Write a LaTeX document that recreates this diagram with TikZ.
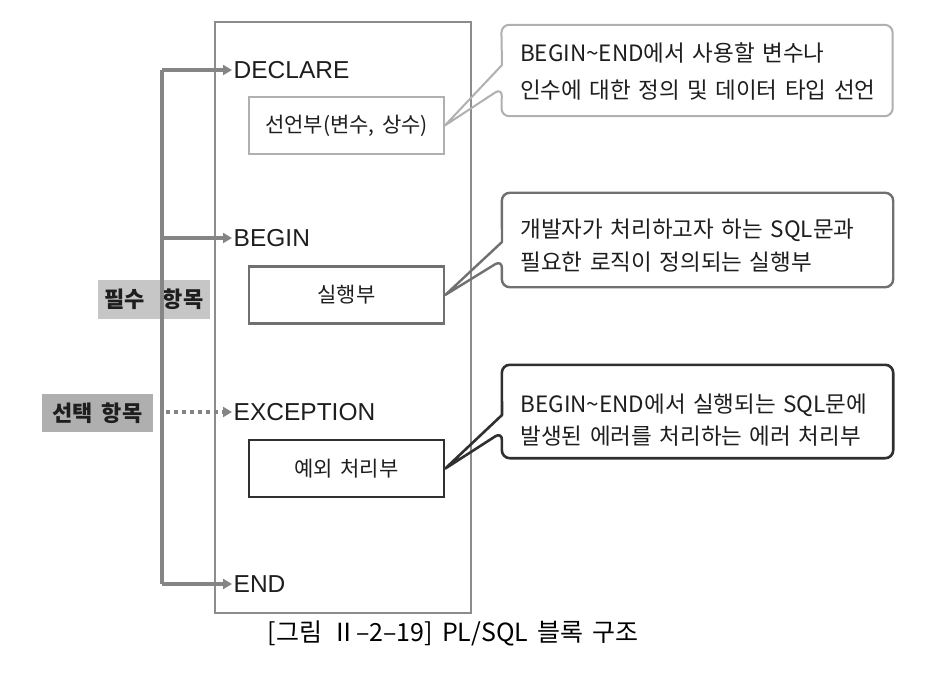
\documentclass[tikz,border=0pt]{standalone}
\usepackage{fontspec}
\setmainfont{Liberation Sans}
\newfontfamily\kr[WordSpace=1.6]{Noto Sans CJK KR}
\usetikzlibrary{arrows.meta,calc}
\definecolor{lineg}{HTML}{858585}
\definecolor{rectg}{HTML}{8C8C8C}
\definecolor{lightb}{HTML}{B0B0B0}
\definecolor{midb}{HTML}{707070}
\definecolor{darkb}{HTML}{303030}
\definecolor{tag1}{HTML}{C6C6C6}
\definecolor{tag2}{HTML}{AFAFAF}
\definecolor{txt}{HTML}{1E1E1E}
\tikzset{
  kw/.style={anchor=west, inner sep=1.5pt, text=txt, font=\fontsize{24.5}{24.5}\selectfont},
  ibox/.style={draw, minimum width=195pt, minimum height=57pt, inner sep=0pt, text=txt, font=\kr\fontsize{21}{21}\selectfont},
  tagbox/.style={inner sep=0pt, text=txt, font=\kr\bfseries\fontsize{22}{22}\selectfont},
  cbox/.style={minimum width=391pt, inner sep=0pt},
  ctext/.style={align=left, text width=370pt, inner sep=0pt, text=txt},
  garrow/.style={draw=lineg, line width=3.2pt, -{Triangle[length=9pt,width=10pt]}},
  gline/.style={draw=lineg, line width=3.2pt},
  gdot/.style={draw=lineg, line width=3.6pt, dash pattern=on 4pt off 4pt, -{Triangle[length=9pt,width=10pt]}},
}
\begin{document}
\begin{tikzpicture}[x=1pt,y={(0pt,-1pt)}]
\useasboundingbox[fill=white] (0,0) rectangle (930,682);

% main block
\node[draw=rectg, line width=2pt, minimum width=256pt, minimum height=591pt, inner sep=0pt] (blk) at (343,317.5) {};

% keywords
\node[kw] (decl) at (232,70) {DECLARE};
\node[kw] (begn) at (232,238) {BEGIN};
\node[kw] (exc) at (232,412) {EXCEPTION};
\node[kw] (endn) at (232,584) {END};

% inner boxes
\node[ibox, draw=lightb, line width=1.8pt] (s1) at (346.5,125.5) {선언부(변수, 상수)};
\node[ibox, draw=midb, line width=2.4pt] (s2) at (346.5,295) {실행부};
\node[ibox, draw=darkb, line width=2.6pt] (s3) at (346.5,468.5) {예외 처리부};

% tags
\node[tagbox, fill=tag1, minimum width=112pt, minimum height=39pt] (req) at (154,299.5) {필수\hspace{18pt}항목};
\node[tagbox, fill=tag2, minimum width=111pt, minimum height=38pt] (opt) at (97.5,413) {선택\hspace{9pt}항목};

% connectors
\coordinate (vtop) at (162,70);
\coordinate (vbot) at (162,584);
\draw[gline] (vtop) -- (vbot);
\draw[garrow] (vtop) -- (decl.west);
\draw[garrow] (vtop |- begn.west) -- (begn.west);
\draw[garrow] (vbot) -- (endn.west);
\coordinate (dstart) at (166,412);
\draw[gdot] (dstart) -- (exc.west);

% callouts
\node[cbox, minimum height=91pt] (c1) at (697,70.5) {};
\node[cbox, minimum height=94pt] (c2) at (697.5,240) {};
\node[cbox, minimum height=93pt] (c3) at (697.5,411.5) {};
\node[ctext, font=\kr\fontsize{22.5}{37}\selectfont] (t1) at ($(c1.center)+(8,1)$)
  {BEGIN\textasciitilde END에서 사용할 변수나\\인수에 대한 정의 및 데이터 타입 선언};
\node[ctext, font=\kr\fontsize{22.5}{33}\selectfont] (t2) at ($(c2.center)+(8,6)$)
  {개발자가 처리하고자 하는 SQL문과\\필요한 로직이 정의되는 실행부};
\node[ctext, font=\kr\fontsize{22.5}{32}\selectfont] (t3) at ($(c3.center)+(8,9)$)
  {BEGIN\textasciitilde END에서 실행되는 SQL문에\\발생된 에러를 처리하는 에러 처리부};

\coordinate (c1a) at (502,65);
\coordinate (c1b) at (502,88);
\coordinate (c2a) at (502,242);
\coordinate (c2b) at (502,260);
\coordinate (c3a) at (502,415);
\coordinate (c3b) at (502,432);
\draw[draw=lightb, line width=2pt, line join=round] (c1a) [rounded corners=8pt] -- (c1.north west) -- (c1.north east) -- (c1.south east) -- (c1.south west) -- (c1b) [sharp corners] -- (s1.east) -- cycle;
\draw[draw=midb, line width=2.4pt, line join=round] (c2a) [rounded corners=8pt] -- (c2.north west) -- (c2.north east) -- (c2.south east) -- (c2.south west) -- (c2b) [sharp corners] -- (s2.east) -- cycle;
\draw[draw=darkb, line width=2.6pt, line join=round] (c3a) [rounded corners=8pt] -- (c3.north west) -- (c3.north east) -- (c3.south east) -- (c3.south west) -- (c3b) [sharp corners] -- (s3.east) -- cycle;

% caption
\node[text=black, font=\kr\fontsize{25}{25}\selectfont] (cap) at (453,633) {[그림 Ⅱ–2–19] PL/SQL 블록 구조};
\end{tikzpicture}
\end{document}
